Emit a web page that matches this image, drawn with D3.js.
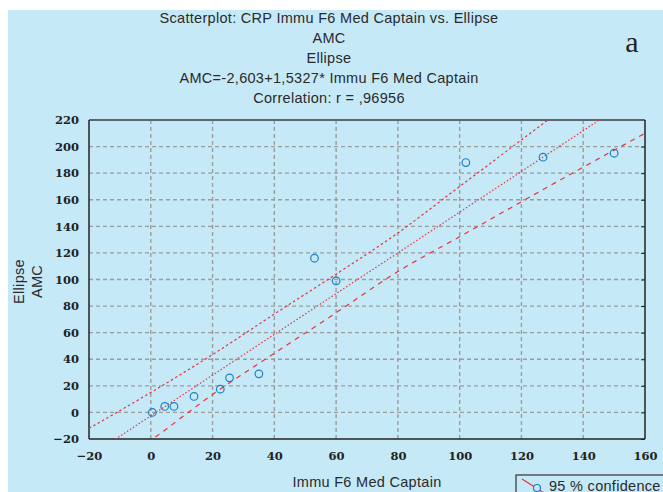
<!DOCTYPE html>
<html>
<head>
<meta charset="utf-8">
<script src="https://cdn.jsdelivr.net/npm/d3@7"></script>
<style>
  body { margin: 0; background: #fff; }
  svg { display: block; }
</style>
</head>
<body>
<div id="chart"></div>
<script>
const width = 663, height = 492;
const margin = ({top: 120, right: 18, bottom: 53, left: 89});

// data points
const xVals = [0.5, 4.5, 7.5, 14, 22.5, 25.5, 35, 53, 60, 102, 127, 150];
const yVals = [0, 4.5, 4.5, 12, 17.5, 26, 29, 116, 99, 188, 192, 195];

// fitted line as stated in the title
const intercept = -2.603;
const slope = 1.5327;

// 95% confidence bands
const bandX = [-20, 0, 20, 40, 60, 80, 100, 120, 140, 160];
const upperBand = [-12, 15, 43.5, 74, 104, 135, 170, 205, 240, 275];
const lowerBand = [-52, -21, 13.5, 44.4, 75, 106, 132.2, 158.5, 184.5, 210];

const xTicks = [-20, 0, 20, 40, 60, 80, 100, 120, 140, 160];
const yTicks = [-20, 0, 20, 40, 60, 80, 100, 120, 140, 160, 180, 200, 220];

const titleLines = [
  "Scatterplot: CRP Immu F6 Med Captain vs. Ellipse",
  "AMC",
  "Ellipse",
  "AMC=-2,603+1,5327* Immu F6 Med Captain",
  "Correlation: r = ,96956"
];

const svg = d3.select("#chart").append("svg")
  .attr("width", width).attr("height", height);

svg.append("rect")
  .attr("x", 8).attr("y", 10)
  .attr("width", width - 8).attr("height", height - 10)
  .attr("fill", "#c6e9f8");

const x = d3.scaleLinear().domain([-20, 160]).range([margin.left, width - margin.right]);
const y = d3.scaleLinear().domain([-20, 220]).range([height - margin.bottom, margin.top]);

svg.append("defs").append("clipPath").attr("id", "plot-clip")
  .append("rect")
  .attr("x", margin.left).attr("y", margin.top)
  .attr("width", x(160) - x(-20)).attr("height", y(-20) - y(220));

// grid
const grid = svg.append("g").attr("stroke", "#9c9c9c").attr("stroke-width", 1.4).attr("stroke-dasharray", "4,3");
grid.selectAll("line.v")
  .data(xTicks.filter(d => d > -20 && d < 160))
  .enter().append("line")
  .attr("x1", d => x(d)).attr("x2", d => x(d))
  .attr("y1", y(220)).attr("y2", y(-20));
grid.selectAll("line.h")
  .data(yTicks.filter(d => d > -20 && d < 220))
  .enter().append("line")
  .attr("y1", d => y(d)).attr("y2", d => y(d))
  .attr("x1", x(-20)).attr("x2", x(160));

// axes with labels
const tickFont = "'DejaVu Serif', serif";
const xAxis = svg.append("g")
  .attr("transform", `translate(0, ${y(-20)})`)
  .call(d3.axisBottom(x).tickValues(xTicks).tickSize(0).tickPadding(13).tickFormat(d3.format("d")));
const yAxis = svg.append("g")
  .attr("transform", `translate(${x(-20)}, 0)`)
  .call(d3.axisLeft(y).tickValues(yTicks).tickSize(0).tickPadding(10).tickFormat(d3.format("d")));
[xAxis, yAxis].forEach(g => {
  g.select(".domain").remove();
  g.selectAll("text")
    .style("font-family", tickFont)
    .style("font-weight", "bold")
    .style("font-size", "11.5px")
    .attr("fill", "#222");
});

// right side inner ticks
svg.append("g")
  .attr("transform", `translate(${x(160)}, 0)`)
  .call(d3.axisLeft(y).tickValues(yTicks).tickSize(4).tickFormat(""))
  .call(g => g.select(".domain").remove())
  .selectAll("line").attr("stroke", "#222");

// frame
svg.append("line").attr("x1", x(-20)).attr("x2", x(160)).attr("y1", y(220)).attr("y2", y(220))
  .attr("stroke", "#5a6670").attr("stroke-width", 2);
svg.append("line").attr("x1", x(160)).attr("x2", x(160)).attr("y1", y(220)).attr("y2", y(-20))
  .attr("stroke", "#222").attr("stroke-width", 1.5);
svg.append("line").attr("x1", x(-20)).attr("x2", x(-20)).attr("y1", y(220)).attr("y2", y(-20))
  .attr("stroke", "#222").attr("stroke-width", 1.5);
svg.append("line").attr("x1", x(-20)).attr("x2", x(160)).attr("y1", y(-20)).attr("y2", y(-20))
  .attr("stroke", "#222").attr("stroke-width", 1.5);

// fit and bands
const plot = svg.append("g").attr("clip-path", "url(#plot-clip)");
const red = "#e8323c";
const fitLine = d3.line().x(d => x(d)).y(d => y(intercept + slope * d));
plot.append("path")
  .datum([-20, 160])
  .attr("d", fitLine)
  .attr("fill", "none").attr("stroke", red).attr("stroke-width", 1.2)
  .attr("stroke-dasharray", "1.5,2");

const bandLine = vals => d3.line()
  .x((d, i) => x(bandX[i]))
  .y(d => y(d))
  .curve(d3.curveMonotoneX)(vals);
plot.append("path")
  .attr("d", bandLine(upperBand))
  .attr("fill", "none").attr("stroke", red).attr("stroke-width", 1.2)
  .attr("stroke-dasharray", "2.5,2.5");
plot.append("path")
  .attr("d", bandLine(lowerBand))
  .attr("fill", "none").attr("stroke", red).attr("stroke-width", 1.2)
  .attr("stroke-dasharray", "5,5");

// points
plot.selectAll("circle")
  .data(xVals.map((d, i) => ({x: d, y: yVals[i]})))
  .enter().append("circle")
  .attr("cx", d => x(d.x)).attr("cy", d => y(d.y))
  .attr("r", 3.8)
  .attr("fill", "none").attr("stroke", "#1f7fc4").attr("stroke-width", 1.2);

// titles
const sans = "'Liberation Sans', Arial, sans-serif";
const textFill = "#2a2a2a";
svg.append("g").selectAll("text")
  .data(titleLines)
  .enter().append("text")
  .attr("x", 329)
  .attr("y", (d, i) => 23 + i * 20)
  .attr("text-anchor", "middle")
  .style("font-family", sans).style("font-size", "14.5px").style("letter-spacing", "0.3px")
  .attr("fill", textFill)
  .text(d => d);

svg.append("text")
  .attr("x", 632).attr("y", 52)
  .attr("text-anchor", "middle")
  .style("font-family", "'Liberation Serif', serif").style("font-size", "30px")
  .attr("fill", "#222")
  .text("a");

// axis titles
svg.append("text")
  .attr("x", x(70)).attr("y", 487)
  .attr("text-anchor", "middle")
  .style("font-family", sans).style("font-size", "14.5px").style("letter-spacing", "0.3px")
  .attr("fill", textFill)
  .text("Immu F6 Med Captain");

const yTitle = svg.append("g").attr("transform", `translate(0, ${y(100)}) rotate(-90)`);
yTitle.append("text").attr("x", -2).attr("y", 24)
  .attr("text-anchor", "middle")
  .style("font-family", sans).style("font-size", "14.5px").style("letter-spacing", "0.3px")
  .attr("fill", textFill)
  .text("Ellipse");
yTitle.append("text").attr("x", -2).attr("y", 42)
  .attr("text-anchor", "middle")
  .style("font-family", sans).style("font-size", "14.5px").style("letter-spacing", "0.3px")
  .attr("fill", textFill)
  .text("AMC");

// legend
const legend = svg.append("g");
legend.append("rect")
  .attr("x", 516).attr("y", 475).attr("width", 160).attr("height", 30)
  .attr("fill", "#c6e9f8").attr("stroke", "#333").attr("stroke-width", 1.2);
legend.append("line")
  .attr("x1", 522).attr("y1", 479).attr("x2", 544).attr("y2", 493)
  .attr("stroke", red).attr("stroke-width", 1.2);
legend.append("circle")
  .attr("cx", 537).attr("cy", 488).attr("r", 3.5)
  .attr("fill", "#c6e9f8").attr("stroke", "#1f7fc4").attr("stroke-width", 1.2);
legend.append("text")
  .attr("x", 549).attr("y", 491)
  .style("font-family", sans).style("font-size", "14.5px").style("letter-spacing", "0.3px")
  .attr("fill", textFill)
  .text("95 % confidence");
</script>
</body>
</html>
